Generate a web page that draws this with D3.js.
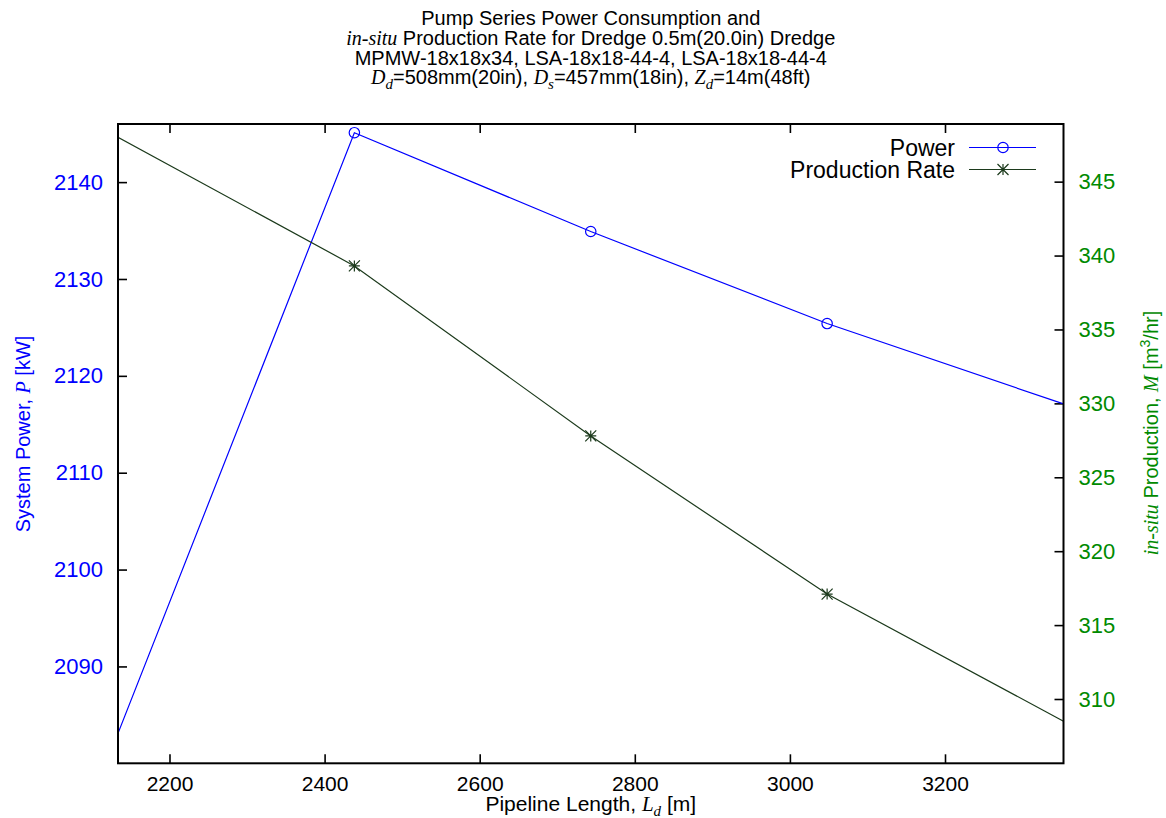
<!DOCTYPE html>
<html>
<head>
<meta charset="utf-8">
<script src="https://cdn.jsdelivr.net/npm/d3@7"></script>
<style>
  html, body { margin: 0; padding: 0; background: #fff; }
  svg { display: block; }
  text { font-family: "Liberation Sans", Arial, sans-serif; }
  .math { font-family: "Liberation Serif", "Times New Roman", serif; font-style: italic; }
</style>
</head>
<body>
<svg id="chart" width="1166" height="818"></svg>
<script>
// Pipeline length (m) and the two series plotted against it
const pipelineLength = [2133.6, 2438.4, 2743.2, 3048.0, 3352.8];
const systemPower = [2083.1, 2145.1, 2134.9, 2125.4, 2117.1];      // kW
const productionRate = [348.0, 339.3, 327.8, 317.1, 308.5];        // m^3/hr

const xTicks = [2200, 2400, 2600, 2800, 3000, 3200];
const powerTicks = [2090, 2100, 2110, 2120, 2130, 2140];
const productionTicks = [310, 315, 320, 325, 330, 335, 340, 345];

const W = 1166, H = 818;
const plot = { left: 118, right: 1063.5, top: 124, bottom: 763.3 };

const powerColor = "#0000ff";
const prodColor = "#1c3a1c";
const y2Color = "#008a00";

const svg = d3.select("#chart");

const x = d3.scaleLinear().domain([2133.6, 3352.8]).range([plot.left, plot.right]);
const y1 = d3.scaleLinear().domain([2080, 2146]).range([plot.bottom, plot.top]);
const y2 = d3.scaleLinear().domain([305.65, 348.9]).range([plot.bottom, plot.top]);

const tickLen = 9;
const fontTick = 22;

// Clip region for the data
svg.append("defs").append("clipPath").attr("id", "plotClip")
  .append("rect")
  .attr("x", plot.left).attr("y", plot.top)
  .attr("width", plot.right - plot.left).attr("height", plot.bottom - plot.top);

// Axes: ticks drawn inward, labels placed outside
const xAxisBottom = d3.axisBottom(x).tickValues(xTicks).tickSize(-tickLen).tickPadding(13).tickFormat(d3.format("d"));
const xAxisTop = d3.axisTop(x).tickValues(xTicks).tickSize(-tickLen).tickFormat("");
const yAxisLeft = d3.axisLeft(y1).tickValues(powerTicks).tickSize(-tickLen).tickPadding(15).tickFormat(d3.format("d"));
const yAxisRight = d3.axisRight(y2).tickValues(productionTicks).tickSize(-tickLen).tickPadding(15).tickFormat(d3.format("d"));

function styleAxis(g, color, size) {
  g.select(".domain").remove();
  g.selectAll(".tick line").attr("stroke", "#000").attr("stroke-width", 1.6);
  g.selectAll(".tick text")
    .attr("fill", color)
    .attr("font-size", size)
    .attr("font-family", "Liberation Sans, Arial, sans-serif");
}

svg.append("g").attr("transform", `translate(0,${plot.bottom})`).call(xAxisBottom).call(g => styleAxis(g, "#000", 21));
svg.append("g").attr("transform", `translate(0,${plot.top})`).call(xAxisTop).call(g => styleAxis(g, "#000", 21));
svg.append("g").attr("transform", `translate(${plot.left},0)`).call(yAxisLeft).call(g => styleAxis(g, powerColor, fontTick));
svg.append("g").attr("transform", `translate(${plot.right},0)`).call(yAxisRight).call(g => styleAxis(g, y2Color, fontTick));

// Series lines
const dataGroup = svg.append("g").attr("clip-path", "url(#plotClip)");
const idx = d3.range(pipelineLength.length);

const powerLine = d3.line().x(i => x(pipelineLength[i])).y(i => y1(systemPower[i]));
const prodLine = d3.line().x(i => x(pipelineLength[i])).y(i => y2(productionRate[i]));

dataGroup.append("path").attr("d", powerLine(idx))
  .attr("fill", "none").attr("stroke", powerColor).attr("stroke-width", 1.2);
dataGroup.append("path").attr("d", prodLine(idx))
  .attr("fill", "none").attr("stroke", prodColor).attr("stroke-width", 1.2);

// Point markers (points lying on the plot border are not drawn)
const [x0, x1] = x.domain();
const inner = idx.filter(i => pipelineLength[i] > x0 && pipelineLength[i] < x1);

function circleMark(g, cx, cy) {
  g.append("circle").attr("cx", cx).attr("cy", cy).attr("r", 5.2)
    .attr("fill", "none").attr("stroke", powerColor).attr("stroke-width", 1.2);
}
function starMark(g, cx, cy) {
  const s = 5.5;
  const p = d3.path();
  p.moveTo(cx - s, cy); p.lineTo(cx + s, cy);
  p.moveTo(cx, cy - s); p.lineTo(cx, cy + s);
  p.moveTo(cx - s, cy - s); p.lineTo(cx + s, cy + s);
  p.moveTo(cx - s, cy + s); p.lineTo(cx + s, cy - s);
  g.append("path").attr("d", p.toString()).attr("stroke", prodColor).attr("stroke-width", 1.2).attr("fill", "none");
}

inner.forEach(i => circleMark(dataGroup, x(pipelineLength[i]), y1(systemPower[i])));
inner.forEach(i => starMark(dataGroup, x(pipelineLength[i]), y2(productionRate[i])));

// Plot border
svg.append("rect")
  .attr("x", plot.left).attr("y", plot.top)
  .attr("width", plot.right - plot.left).attr("height", plot.bottom - plot.top)
  .attr("fill", "none").attr("stroke", "#000").attr("stroke-width", 2);

// Legend
const legend = svg.append("g");
const legendRows = [
  { label: "Power", color: powerColor, mark: circleMark, y: 147.5 },
  { label: "Production Rate", color: prodColor, mark: starMark, y: 169.5 }
];
legendRows.forEach(r => {
  legend.append("text").attr("x", 955).attr("y", r.y).attr("dy", "0.35em")
    .attr("text-anchor", "end").attr("font-size", 23).attr("fill", "#000").text(r.label);
  legend.append("line").attr("x1", 969).attr("x2", 1036).attr("y1", r.y).attr("y2", r.y)
    .attr("stroke", r.color).attr("stroke-width", 1.2);
  r.mark(legend, 1003, r.y);
});

// Title
const titleSize = 20;
const title = svg.append("text").attr("text-anchor", "middle").attr("font-size", titleSize).attr("fill", "#000");
const tx = (plot.left + plot.right) / 2;
title.append("tspan").attr("x", tx).attr("y", 25).text("Pump Series Power Consumption and");
const l2 = title.append("tspan").attr("x", tx).attr("y", 44.5);
l2.append("tspan").attr("class", "math").text("in-situ");
l2.append("tspan").text(" Production Rate for Dredge 0.5m(20.0in) Dredge");
title.append("tspan").attr("x", tx).attr("y", 64.5).text("MPMW-18x18x34, LSA-18x18-44-4, LSA-18x18-44-4");
const l4 = title.append("tspan").attr("x", tx).attr("y", 83.5);
function subVar(parent, main, sub, after) {
  parent.append("tspan").attr("class", "math").text(main);
  parent.append("tspan").attr("class", "math").attr("dy", 5).attr("font-size", titleSize * 0.75).text(sub);
  parent.append("tspan").attr("dy", -5).text(after);
}
subVar(l4, "D", "d", "=508mm(20in), ");
subVar(l4, "D", "s", "=457mm(18in), ");
subVar(l4, "Z", "d", "=14m(48ft)");

// X axis title
const xt = svg.append("text").attr("x", tx).attr("y", 811).attr("text-anchor", "middle")
  .attr("font-size", 21).attr("fill", "#000");
xt.append("tspan").text("Pipeline Length, ");
xt.append("tspan").attr("class", "math").text("L");
xt.append("tspan").attr("class", "math").attr("dy", 5).attr("font-size", 15).text("d");
xt.append("tspan").attr("dy", -5).text(" [m]");

// Left axis title
const ylt = svg.append("text").attr("transform", `translate(30,434) rotate(-90)`)
  .attr("text-anchor", "middle").attr("font-size", 20).attr("fill", powerColor);
ylt.append("tspan").text("System Power, ");
ylt.append("tspan").attr("class", "math").text("P");
ylt.append("tspan").text(" [kW]");

// Right axis title
const yrt = svg.append("text").attr("transform", `translate(1158,433) rotate(-90)`)
  .attr("text-anchor", "middle").attr("font-size", 20).attr("fill", y2Color);
yrt.append("tspan").attr("class", "math").text("in-situ");
yrt.append("tspan").text(" Production, ");
yrt.append("tspan").attr("class", "math").text("M");
yrt.append("tspan").text(" [m");
yrt.append("tspan").attr("dy", -8).attr("font-size", 14).text("3");
yrt.append("tspan").attr("dy", 8).text("/hr]");
</script>
</body>
</html>
